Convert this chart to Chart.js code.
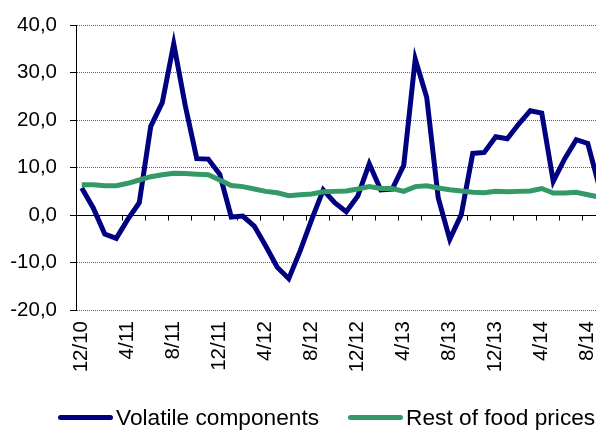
<!DOCTYPE html>
<html>
<head>
<meta charset="utf-8">
<script src="https://cdn.jsdelivr.net/npm/chart.js@4"></script>
<style>
  html, body { margin: 0; padding: 0; background: #fff; overflow: hidden; }
  #wrap { position: relative; width: 660px; height: 430px; }
  #legend {
    position: absolute; left: 58px; top: 404px; display: flex; align-items: center;
    font-family: "Liberation Sans", Arial, sans-serif; font-size: 22.7px; color: #000; white-space: nowrap;
  }
  .item { display: flex; align-items: center; margin-right: 29px; }
  .swatch { width: 55px; height: 5px; border-radius: 3px; margin-right: 3px; }
</style>
</head>
<body>
<div id="wrap">
  <canvas id="chart" width="660" height="430"></canvas>
  <div id="legend"></div>
</div>
<script>
// ===== DATA =====
const months = [
  '12/10',
  '1/11', '2/11', '3/11', '4/11', '5/11', '6/11', '7/11', '8/11', '9/11', '10/11', '11/11', '12/11',
  '1/12', '2/12', '3/12', '4/12', '5/12', '6/12', '7/12', '8/12', '9/12', '10/12', '11/12', '12/12',
  '1/13', '2/13', '3/13', '4/13', '5/13', '6/13', '7/13', '8/13', '9/13', '10/13', '11/13', '12/13',
  '1/14', '2/14', '3/14', '4/14', '5/14', '6/14', '7/14', '8/14', '9/14'
];
const volatile = [5.7, 1.5, -4.0, -4.9, -0.9, 2.6, 18.7, 23.7, 36.1, 23.1, 11.9, 11.8, 8.6, -0.4, -0.2,
  -2.3, -6.5, -11.0, -13.4, -7.5, -0.9, 5.3, 2.6, 0.7, 4.0, 10.8, 5.3, 5.5, 10.5, 32.9,
  24.8, 3.6, -5.1, 0.1, 13.0, 13.2, 16.5, 16.1, 19.2, 22.0, 21.5, 7.1, 11.9, 15.9, 15.1, 6.0];
const restOfFood = [6.4, 6.4, 6.2, 6.2, 6.7, 7.4, 8.1, 8.5, 8.8, 8.75, 8.6, 8.5, 7.4, 6.25, 6.0,
  5.5, 5.0, 4.7, 4.1, 4.3, 4.45, 4.9, 5.0, 5.1, 5.5, 6.0, 5.6, 5.6, 5.0, 6.0,
  6.2, 5.7, 5.35, 5.1, 4.8, 4.7, 5.0, 4.9, 5.0, 5.1, 5.6, 4.65, 4.65, 4.8, 4.3, 3.8];
const seriesNames = ['Volatile components', 'Rest of food prices'];
const seriesColors = ['#000080', '#339966'];

const FONT = '"Liberation Sans", Arial, sans-serif';

// ===== ZERO LINE + TICK MARKS =====
const zeroAxis = {
  id: 'zeroAxis',
  beforeDatasetsDraw(chart) {
    const { ctx, chartArea, scales } = chart;
    const y0 = Math.round(scales.y.getPixelForValue(0)) + 0.5;
    ctx.save();
    ctx.strokeStyle = '#000';
    ctx.lineWidth = 1;
    ctx.beginPath();
    ctx.moveTo(chartArea.left, y0);
    ctx.lineTo(chartArea.right, y0);
    // tick marks every 2 categories, between categories
    for (let k = 2; k <= months.length; k += 2) {
      let px = k < months.length
        ? (scales.x.getPixelForValue(k - 1) + scales.x.getPixelForValue(k)) / 2
        : chartArea.right;
      px = Math.round(px) + 0.5;
      ctx.moveTo(px, y0);
      ctx.lineTo(px, y0 + 5);
    }
    ctx.stroke();
    ctx.restore();
  }
};

// ===== CHART =====
new Chart(document.getElementById('chart'), {
  type: 'line',
  data: {
    labels: months,
    datasets: [
      { label: seriesNames[0], data: volatile, borderColor: seriesColors[0], backgroundColor: seriesColors[0],
        borderWidth: 5, pointRadius: 0, tension: 0, order: 1 },
      { label: seriesNames[1], data: restOfFood, borderColor: seriesColors[1], backgroundColor: seriesColors[1],
        borderWidth: 5, pointRadius: 0, tension: 0, order: 0 }
    ]
  },
  options: {
    responsive: false,
    animation: false,
    layout: { padding: { left: 0, top: 22, right: 55, bottom: 0 } },
    plugins: { legend: { display: false }, tooltip: { enabled: false } },
    scales: {
      x: {
        type: 'category',
        offset: true,
        grid: { display: false },
        border: { display: false },
        ticks: {
          autoSkip: false, minRotation: 90, maxRotation: 90, padding: 3,
          color: '#000', font: { family: FONT, size: 20.5 },
          callback: (v, i) => (i % 4 === 0 ? months[i] : '')
        },
        afterFit: s => { s.height = 120; }
      },
      y: {
        min: -20, max: 40,
        ticks: {
          stepSize: 10, padding: 13, color: '#000', font: { family: FONT, size: 20.5 },
          callback: v => v.toFixed(1).replace('.', ',')
        },
        grid: { color: '#606060', lineWidth: 1, tickLength: 6, tickColor: '#000', tickBorderDash: [] },
        border: { display: true, color: '#000', width: 1, dash: [1, 1] },
        afterFit: s => { s.width = 76; }
      }
    }
  },
  plugins: [zeroAxis]
});

// ===== LEGEND =====
const legend = document.getElementById('legend');
seriesNames.forEach((name, i) => {
  const item = document.createElement('div');
  item.className = 'item';
  item.innerHTML = `<span class="swatch" style="background:${seriesColors[i]}"></span><span>${name}</span>`;
  legend.appendChild(item);
});
</script>
</body>
</html>
